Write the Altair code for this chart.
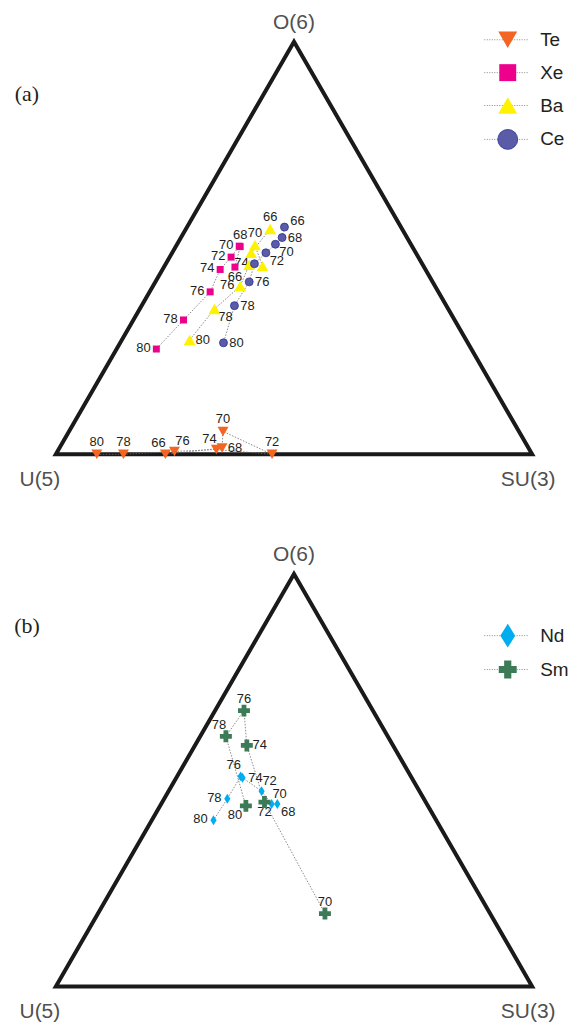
import math
import altair as alt
import pandas as pd

# ---------------- data (triangle coordinates: U(5)=(0,0), SU(3)=(1,0), O(6)=(0.5,0.866)) -------------
N_A = [66, 68, 70, 72, 74, 76, 78, 80]
te_x = [0.230, 0.349, 0.351, 0.454, 0.337, 0.249, 0.142, 0.086]
te_y = [0.000, 0.013, 0.048, 0.000, 0.010, 0.006, 0.000, 0.000]
xe_x = [0.376, 0.387, 0.385, 0.368, 0.345, 0.324, 0.268, 0.211]
xe_y = [0.393, 0.436, 0.437, 0.414, 0.388, 0.341, 0.282, 0.221]
ba_x = [0.450, 0.410, 0.418, 0.434, 0.406, 0.387, 0.333, 0.281]
ba_y = [0.473, 0.423, 0.439, 0.395, 0.398, 0.353, 0.305, 0.240]
ce_x = [0.480, 0.475, 0.461, 0.441, 0.417, 0.406, 0.375, 0.352]
ce_y = [0.477, 0.455, 0.441, 0.423, 0.400, 0.362, 0.312, 0.234]

N_ND = [68, 70, 72, 74, 76, 78, 80]
nd_x = [0.465, 0.453, 0.432, 0.392, 0.388, 0.360, 0.331]
nd_y = [0.383, 0.383, 0.410, 0.438, 0.441, 0.394, 0.349]
N_SM = [70, 72, 74, 76, 78, 80]
sm_x = [0.565, 0.438, 0.401, 0.395, 0.357, 0.399]
sm_y = [0.153, 0.387, 0.506, 0.579, 0.525, 0.379]

# label placement around each marker (direction keys)
te_lab = ["tl", "r", "t", "t", "tl", "tr", "t", "t"]
xe_lab = ["b", "t", "l", "l", "l", "l", "l", "l"]
ba_lab = ["t", "", "t", "", "", "l", "br", "r"]
ce_lab = ["ru", "r", "br", "br", "l", "r", "r", "r"]
nd_lab = ["br", "tr", "tr", "r", "tl", "l", "l"]
sm_lab = ["t", "b", "r", "t", "tl", "bl"]

VERTEX_NAMES = ["U(5)", "SU(3)", "O(6)"]

# ---------------- styles / layout -------------
SANS = "Liberation Sans"
SERIF = "Liberation Serif"
INK = "#231f20"
OFF = {"t": (0, -12), "b": (0, 10), "l": (-13, -1), "r": (13, 0), "tl": (-7, -11),
       "tr": (8, -10), "bl": (-11, 9), "br": (11, 8), "ru": (13, -6)}
STYLE = {
    "Te": dict(shape="triangle-down", color="#f26522", size=121, lsize=361),
    "Xe": dict(shape="square", color="#ec008c", size=49, lsize=289),
    "Ba": dict(shape="triangle-up", color="#fff200", size=144, lsize=361),
    "Ce": dict(shape="circle", color="#5a5ca8", size=64, lsize=400),
    "Nd": dict(shape="M0,-1L0.62,0L0,1L-0.62,0Z", color="#00aeef", size=100, lsize=576),
    "Sm": dict(shape="cross", color="#3d7a57", size=144, lsize=324),
}

W, H = 568, 524
SIDE = 478
PX_LEFT = 47
PX_BASE = 445
XD = [-PX_LEFT / SIDE, (W - PX_LEFT) / SIDE]
YD = [-(H - PX_BASE) / SIDE, PX_BASE / SIDE]
HT = math.sqrt(3) / 2

X = lambda: alt.X("x:Q", scale=alt.Scale(domain=XD, nice=False, zero=False), axis=None)
Y = lambda: alt.Y("y:Q", scale=alt.Scale(domain=YD, nice=False, zero=False), axis=None)

one = pd.DataFrame({"a": [0]})


def series_df(name, ns, xs, ys, labs):
    return pd.DataFrame({"series": name, "n": ns, "x": xs, "y": ys,
                         "label": [str(v) for v in ns], "pos": labs})


def triangle_layers():
    tri = pd.DataFrame({"i": [0, 1, 2, 3, 4], "x": [0, 1, 0.5, 0, 1], "y": [0, 0, HT, 0, 0]})
    edge = alt.Chart(tri).mark_line(color="#1a1a1a", strokeWidth=4, strokeJoin="miter").encode(
        x=X(), y=Y(), order="i:Q")
    vdf = pd.DataFrame({"name": VERTEX_NAMES, "x": [0, 1, 0.5], "y": [0, 0, HT]})
    offs = {"U(5)": (-16, 26), "SU(3)": (-4, 26), "O(6)": (0, -19)}
    layers = [edge]
    for nm in VERTEX_NAMES:
        dx, dy = offs[nm]
        layers.append(alt.Chart(vdf).transform_filter(alt.datum.name == nm).mark_text(
            font=SANS, fontSize=21, color="#505050", dx=dx, dy=dy, baseline="middle", align="center"
        ).encode(x=X(), y=Y(), text="name:N"))
    return layers


def data_layers(dfs):
    layers = []
    for df in dfs:
        layers.append(alt.Chart(df).mark_line(color="#6d6d6d", strokeWidth=0.8, strokeDash=[1.5, 1.5]).encode(
            x=X(), y=Y(), order="n:Q"))
    for df in dfs:
        for pos in sorted(set(df["pos"])):
            if not pos:
                continue
            dx, dy = OFF[pos]
            layers.append(alt.Chart(df).transform_filter(alt.datum.pos == pos).mark_text(
                font=SANS, fontSize=13, color=INK, dx=dx, dy=dy, baseline="middle", align="center"
            ).encode(x=X(), y=Y(), text="label:N"))
    for df in dfs:
        st = STYLE[df["series"].iloc[0]]
        kw = dict(shape=st["shape"], filled=True, color=st["color"], size=st["size"], opacity=1)
        if df["series"].iloc[0] == "Ce":
            kw.update(stroke="#2e3192", strokeWidth=0.8)
        layers.append(alt.Chart(df).mark_point(**kw).encode(x=X(), y=Y()))
    return layers


def legend_layers(names, ys):
    layers = []
    for nm, yy in zip(names, ys):
        st = STYLE[nm]
        layers.append(alt.Chart(one).mark_rule(color="#8a8a8a", strokeDash=[1, 1.5], strokeWidth=1).encode(
            x=alt.value(477), x2=alt.value(522), y=alt.value(yy)))
        kw = dict(shape=st["shape"], filled=True, color=st["color"], size=st["lsize"], opacity=1)
        if nm == "Ce":
            kw.update(stroke="#2e3192", strokeWidth=0.8)
        layers.append(alt.Chart(one).mark_point(**kw).encode(x=alt.value(500.5), y=alt.value(yy)))
        layers.append(alt.Chart(one).mark_text(text=nm, font=SANS, fontSize=19, color=INK, align="left",
                                              baseline="middle").encode(x=alt.value(533), y=alt.value(yy)))
    return layers


def tag_layer(t):
    return alt.Chart(one).mark_text(text=t, font=SERIF, fontSize=22, color=INK, align="center",
                                    baseline="middle").encode(x=alt.value(18), y=alt.value(83))


dfs_a = [series_df("Te", N_A, te_x, te_y, te_lab),
         series_df("Xe", N_A, xe_x, xe_y, xe_lab),
         series_df("Ba", N_A, ba_x, ba_y, ba_lab),
         series_df("Ce", N_A, ce_x, ce_y, ce_lab)]
dfs_b = [series_df("Nd", N_ND, nd_x, nd_y, nd_lab),
         series_df("Sm", N_SM, sm_x, sm_y, sm_lab)]

panel_a = alt.layer(*(triangle_layers() + data_layers(dfs_a) +
                      legend_layers(["Te", "Xe", "Ba", "Ce"], [29, 62, 95, 129]) + [tag_layer("(a)")])
                    ).properties(width=W, height=H)
panel_b = alt.layer(*(triangle_layers() + data_layers(dfs_b) +
                      legend_layers(["Nd", "Sm"], [93, 127]) + [tag_layer("(b)")])
                    ).properties(width=W, height=H)

chart = alt.vconcat(panel_a, panel_b, spacing=8).properties(padding=0).configure(
    background="white", view=alt.ViewConfig(stroke="transparent"))

chart.save("out.html", embed_options={"renderer": "svg", "actions": False})
